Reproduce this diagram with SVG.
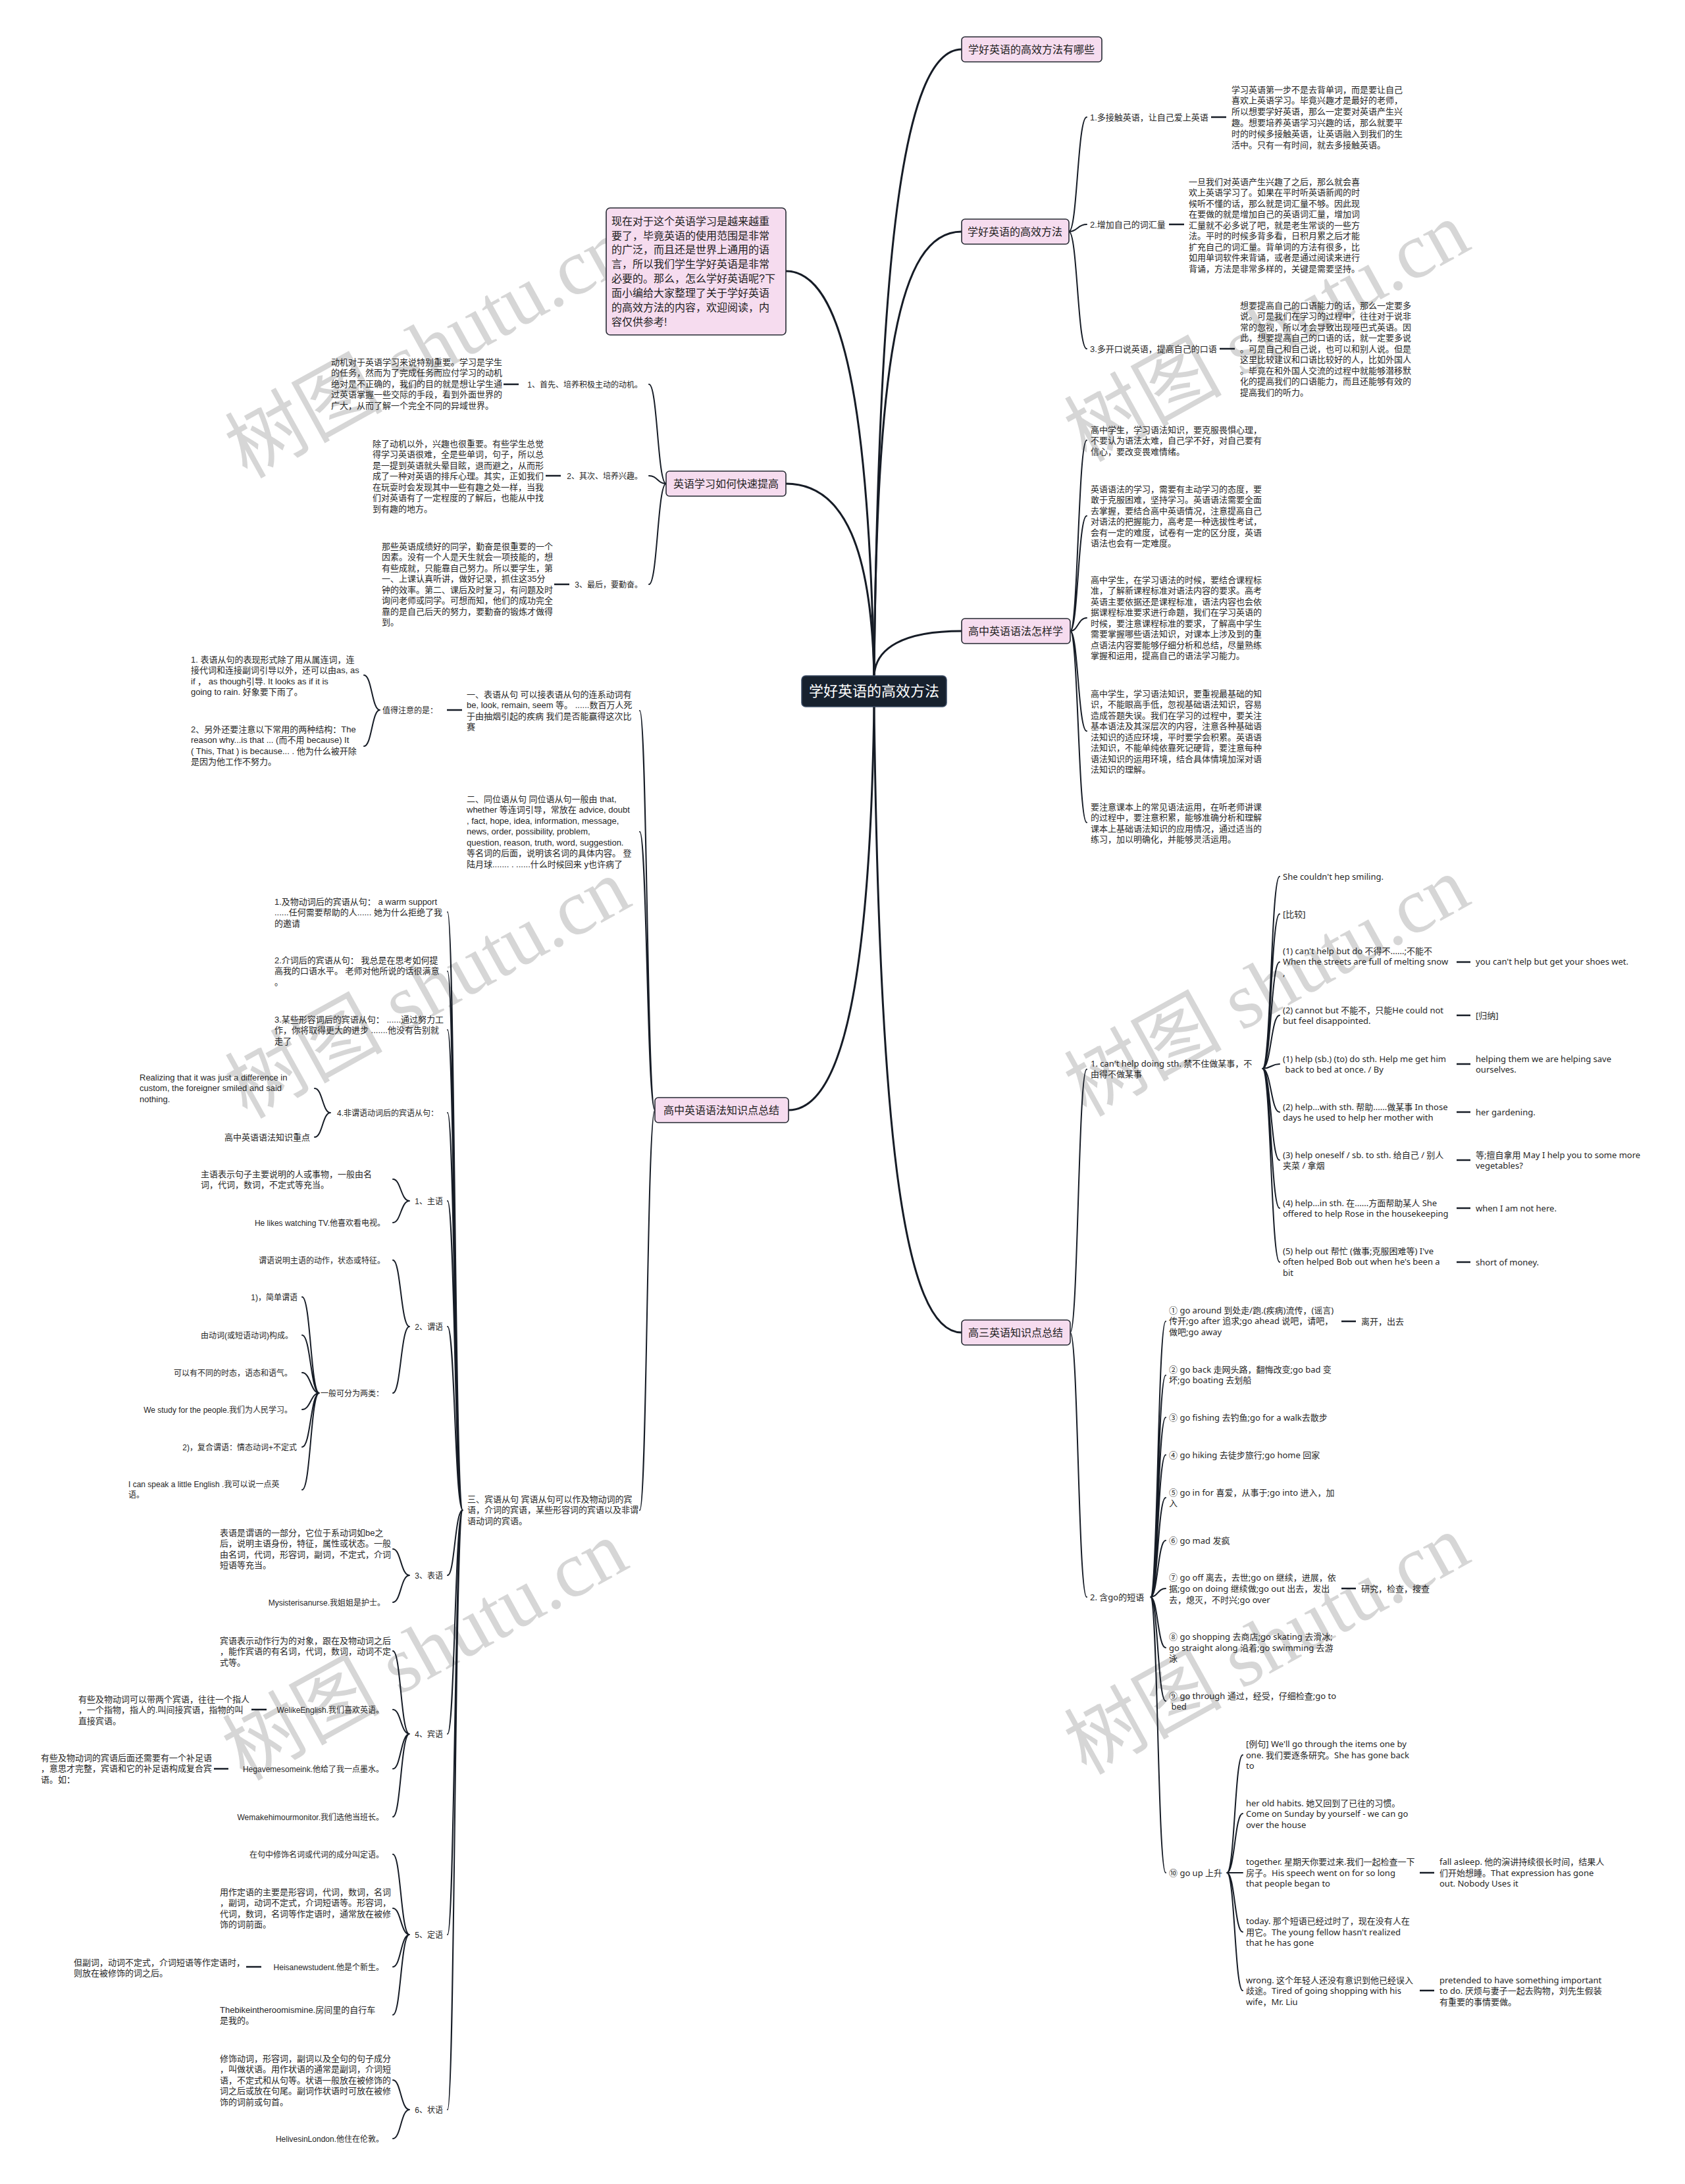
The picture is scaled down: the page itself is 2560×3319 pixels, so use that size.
<svg xmlns="http://www.w3.org/2000/svg" width="2560" height="3319" viewBox="0 0 2560 3319">
<style>
text{font-family:"Liberation Sans","Noto Sans CJK SC",sans-serif;font-size:13px;fill:#262626}
.n{font-family:"Noto Sans","Noto Sans CJK SC",sans-serif}
.e{text-anchor:end}
.s{font-size:12px}
.lb{font-size:16px;fill:#222;text-anchor:middle}
.it{font-size:16px;fill:#222}
.rt{font-size:22px;fill:#fff;text-anchor:middle}
.box{fill:#f6dcef;stroke:#262a33;stroke-width:1.6}
.root{fill:#17212e;stroke:#3a4a62;stroke-width:1.6}
.c{fill:none;stroke:#161c26;stroke-width:2;stroke-linecap:round}
.m{stroke-width:3}
.d{fill:none;stroke:#161c26;stroke-width:2.5}
.wm{font-family:"Liberation Serif","Noto Sans CJK SC",serif;font-size:120px;fill:#d6d6d6;text-anchor:middle}
</style>
<rect width="2560" height="3319" fill="#fff"/>
<g id="watermark">
<text class="wm" transform="translate(650,530) rotate(-29)" y="40">树图 shutu.cn</text>
<text class="wm" transform="translate(1925,505) rotate(-29)" y="40">树图 shutu.cn</text>
<text class="wm" transform="translate(650,1503) rotate(-29)" y="40">树图 shutu.cn</text>
<text class="wm" transform="translate(1925,1500) rotate(-29)" y="40">树图 shutu.cn</text>
<text class="wm" transform="translate(646,2509) rotate(-29)" y="40">树图 shutu.cn</text>
<text class="wm" transform="translate(1925,2500) rotate(-29)" y="40">树图 shutu.cn</text>
</g>
<g id="connectors">
<path class="c m" d="M1328,1027 C1335,400 1370,75 1461,75"/>
<path class="c m" d="M1328,1027 C1332,560 1362,352 1461,352"/>
<path class="c m" d="M1328,1027 C1330,985 1372,959 1461,959"/>
<path class="c m" d="M1328,1027 C1320,620 1282,412 1194,412"/>
<path class="c m" d="M1328,1027 C1324,840 1285,735 1194,735"/>
<path class="c m" d="M1328,1074 C1322,1480 1282,1687 1198,1687"/>
<path class="c m" d="M1328,1074 C1336,1720 1372,2025 1461,2025"/>
<path class="c" d="M1624,352 C1637,352 1637,178 1651,178 M1624,352 C1637,352 1637,341 1651,341 M1624,352 C1637,352 1637,530 1651,530"/>
<path class="c" d="M1626,959 C1638,959 1638,669 1651,669 M1626,959 C1638,959 1638,784 1651,784 M1626,959 C1638,959 1638,939 1651,939 M1626,959 C1638,959 1638,1111 1651,1111 M1626,959 C1638,959 1638,1250 1651,1250"/>
<path class="c" d="M1626,2025 C1638,2025 1638,1625 1651,1625 M1626,2025 C1638,2025 1638,2427 1651,2427"/>
<path class="c" d="M1918,1624 C1931,1624 1931,1332 1944,1332 M1918,1624 C1931,1624 1931,1389 1944,1389 M1918,1624 C1931,1624 1931,1462 1944,1462 M1918,1624 C1931,1624 1931,1543 1944,1543 M1918,1624 C1931,1624 1931,1617 1944,1617 M1918,1624 C1931,1624 1931,1690 1944,1690 M1918,1624 C1931,1624 1931,1763 1944,1763 M1918,1624 C1931,1624 1931,1836 1944,1836 M1918,1624 C1931,1624 1931,1918 1944,1918"/>
<path class="c" d="M1748,2427 C1759,2427 1759,2008 1771,2008 M1748,2427 C1759,2427 1759,2090 1771,2090 M1748,2427 C1759,2427 1759,2154 1771,2154 M1748,2427 C1759,2427 1759,2211 1771,2211 M1748,2427 C1759,2427 1759,2276 1771,2276 M1748,2427 C1759,2427 1759,2341 1771,2341 M1748,2427 C1759,2427 1759,2414 1771,2414 M1748,2427 C1759,2427 1759,2504 1771,2504 M1748,2427 C1759,2427 1759,2585 1771,2585 M1748,2427 C1759,2427 1759,2846 1771,2846"/>
<path class="c" d="M1864,2846 C1876,2846 1876,2667 1888,2667 M1864,2846 C1876,2846 1876,2756 1888,2756 M1864,2846 C1876,2846 1876,2846 1888,2846 M1864,2846 C1876,2846 1876,2936 1888,2936 M1864,2846 C1876,2846 1876,3025 1888,3025"/>
<path class="c" d="M1012,735 C999,735 999,584 986,584 M1012,735 C999,735 999,723 986,723 M1012,735 C999,735 999,888 986,888"/>
<path class="c" d="M995,1687 C983,1687 983,1080 972,1080 M995,1687 C983,1687 983,1264 972,1264 M995,1687 C983,1687 983,2295 972,2295"/>
<path class="c" d="M577,1079 C565,1079 565,1026 553,1026 M577,1079 C565,1079 565,1134 553,1134"/>
<path class="c" d="M703,2295 C691,2295 691,1386 680,1386 M703,2295 C691,2295 691,1476 680,1476 M703,2295 C691,2295 691,1565 680,1565 M703,2295 C691,2295 691,1691 680,1691 M703,2295 C691,2295 691,1825 680,1825 M703,2295 C691,2295 691,2016 680,2016 M703,2295 C691,2295 691,2394 680,2394 M703,2295 C691,2295 691,2635 680,2635 M703,2295 C691,2295 691,2940 680,2940 M703,2295 C691,2295 691,3206 680,3206"/>
<path class="c" d="M502,1691 C490,1691 490,1654 478,1654 M502,1691 C490,1691 490,1728 478,1728"/>
<path class="c" d="M622,1825 C609,1825 609,1792 597,1792 M622,1825 C609,1825 609,1858 597,1858"/>
<path class="c" d="M622,2016 C609,2016 609,1915 597,1915 M622,2016 C609,2016 609,2117 597,2117"/>
<path class="c" d="M485,2117 C472,2117 472,1971 459,1971 M485,2117 C472,2117 472,2029 459,2029 M485,2117 C472,2117 472,2086 459,2086 M485,2117 C472,2117 472,2142 459,2142 M485,2117 C472,2117 472,2199 459,2199 M485,2117 C472,2117 472,2264 459,2264"/>
<path class="c" d="M622,2394 C609,2394 609,2354 597,2354 M622,2394 C609,2394 609,2435 597,2435"/>
<path class="c" d="M622,2635 C609,2635 609,2509 597,2509 M622,2635 C609,2635 609,2598 597,2598 M622,2635 C609,2635 609,2688 597,2688 M622,2635 C609,2635 609,2761 597,2761"/>
<path class="c" d="M622,2940 C609,2940 609,2818 597,2818 M622,2940 C609,2940 609,2900 597,2900 M622,2940 C609,2940 609,2989 597,2989 M622,2940 C609,2940 609,3062 597,3062"/>
<path class="c" d="M622,3206 C609,3206 609,3161 597,3161 M622,3206 C609,3206 609,3250 597,3250"/>
<path class="d" d="M1840,178 H1863 M1776,341 H1799 M1853,530 H1876 M2213,1462 H2234 M2213,1543 H2234 M2213,1617 H2234 M2213,1690 H2234 M2213,1763 H2234 M2213,1836 H2234 M2213,1918 H2234 M2038,2008 H2060 M2038,2414 H2060 M2157,2846 H2179 M2157,3025 H2179 M765,584 H788 M829,723 H852 M842,888 H865 M679,1079 H702 M382,2598 H405 M325,2688 H347 M374,2989 H397"/>
</g>
<g id="root-node"><rect class="root" x="1218" y="1027" width="220" height="47" rx="6"/><text class="rt" x="1328" y="1058">学好英语的高效方法</text></g>
<g id="branch-youxiao-nali"><rect class="box" x="1461" y="56" width="213" height="38" rx="5"/><text class="lb" x="1567" y="80.6">学好英语的高效方法有哪些</text></g>
<g id="branch-youxiao"><rect class="box" x="1461" y="333" width="163" height="38" rx="5"/><text class="lb" x="1542" y="357.6">学好英语的高效方法</text></g>
<g id="branch-yufa-zenyang"><rect class="box" x="1461" y="940" width="165" height="38" rx="5"/><text class="lb" x="1543" y="964.6">高中英语语法怎样学</text></g>
<g id="branch-gaosan"><rect class="box" x="1461" y="2006" width="165" height="38" rx="5"/><text class="lb" x="1543" y="2030.6">高三英语知识点总结</text></g>
<g id="branch-intro"><rect class="box" x="921" y="316" width="273" height="193" rx="6"/><text class="it"><tspan x="929" y="341.6">现在对于这个英语学习是越来越重</tspan><tspan x="929" y="363.5">要了，毕竟英语的使用范围是非常</tspan><tspan x="929" y="385.4">的广泛，而且还是世界上通用的语</tspan><tspan x="929" y="407.3">言，所以我们学生学好英语是非常</tspan><tspan x="929" y="429.2">必要的。那么，怎么学好英语呢?下</tspan><tspan x="929" y="451.1">面小编给大家整理了关于学好英语</tspan><tspan x="929" y="473">的高效方法的内容，欢迎阅读，内</tspan><tspan x="929" y="494.9">容仅供参考!</tspan></text></g>
<g id="branch-kuaisu"><rect class="box" x="1012" y="716" width="182" height="38" rx="5"/><text class="lb" x="1103" y="740.6">英语学习如何快速提高</text></g>
<g id="branch-zhishidian"><rect class="box" x="995" y="1668" width="203" height="38" rx="5"/><text class="lb" x="1096" y="1692.6">高中英语语法知识点总结</text></g>

<g id="n-jiechu"><text x="1656" y="182.5">1.多接触英语，让自己爱上英语</text></g>
<g id="n-jiechu-p"><text><tspan x="1871" y="140.5">学习英语第一步不是去背单词，而是要让自己</tspan><tspan x="1871" y="157.3">喜欢上英语学习。毕竟兴趣才是最好的老师，</tspan><tspan x="1871" y="174.1">所以想要学好英语，那么一定要对英语产生兴</tspan><tspan x="1871" y="190.9">趣。想要培养英语学习兴趣的话，那么就要平</tspan><tspan x="1871" y="207.7">时的时候多接触英语，让英语融入到我们的生</tspan><tspan x="1871" y="224.5">活中。只有一有时间，就去多接触英语。</tspan></text></g>
<g id="n-cihui"><text x="1656" y="345.5">2.增加自己的词汇量</text></g>
<g id="n-cihui-p"><text><tspan x="1806" y="280.5">一旦我们对英语产生兴趣了之后，那么就会喜</tspan><tspan x="1806" y="297">欢上英语学习了。如果在平时听英语新闻的时</tspan><tspan x="1806" y="313.5">候听不懂的话，那么就是词汇量不够。因此现</tspan><tspan x="1806" y="330">在要做的就是增加自己的英语词汇量，增加词</tspan><tspan x="1806" y="346.5">汇量就不必多说了吧，就是老生常谈的一些方</tspan><tspan x="1806" y="363">法。平时的时候多背多看，日积月累之后才能</tspan><tspan x="1806" y="379.5">扩充自己的词汇量。背单词的方法有很多，比</tspan><tspan x="1806" y="396">如用单词软件来背诵，或者是通过阅读来进行</tspan><tspan x="1806" y="412.5">背诵，方法是非常多样的，关键是需要坚持。</tspan></text></g>
<g id="n-kouyu"><text x="1656" y="534.5">3.多开口说英语，提高自己的口语</text></g>
<g id="n-kouyu-p"><text><tspan x="1884" y="468.5">想要提高自己的口语能力的话，那么一定要多</tspan><tspan x="1884" y="485">说。可是我们在学习的过程中，往往对于说非</tspan><tspan x="1884" y="501.5">常的忽视，所以才会导致出现哑巴式英语。因</tspan><tspan x="1884" y="518">此，想要提高自己的口语的话，就一定要多说</tspan><tspan x="1884" y="534.5">。可是自己和自己说，也可以和别人说。但是</tspan><tspan x="1884" y="551">这里比较建议和口语比较好的人，比如外国人</tspan><tspan x="1884" y="567.5">。毕竟在和外国人交流的过程中就能够潜移默</tspan><tspan x="1884" y="584">化的提高我们的口语能力，而且还能够有效的</tspan><tspan x="1884" y="600.5">提高我们的听力。</tspan></text></g>

<g id="n-yufa-1"><text><tspan x="1657" y="657.5">高中学生，学习语法知识，要克服畏惧心理，</tspan><tspan x="1657" y="674">不要认为语法太难，自己学不好，对自己要有</tspan><tspan x="1657" y="690.5">信心，要改变畏难情绪。</tspan></text></g>
<g id="n-yufa-2"><text><tspan x="1657" y="747.5">英语语法的学习，需要有主动学习的态度，要</tspan><tspan x="1657" y="764">敢于克服困难，坚持学习。英语语法需要全面</tspan><tspan x="1657" y="780.5">去掌握，要结合高中英语情况，注意提高自己</tspan><tspan x="1657" y="797">对语法的把握能力，高考是一种选拔性考试，</tspan><tspan x="1657" y="813.5">会有一定的难度，试卷有一定的区分度，英语</tspan><tspan x="1657" y="830">语法也会有一定难度。</tspan></text></g>
<g id="n-yufa-3"><text><tspan x="1657" y="885.5">高中学生，在学习语法的时候，要结合课程标</tspan><tspan x="1657" y="902">准，了解新课程标准对语法内容的要求。高考</tspan><tspan x="1657" y="918.5">英语主要依据还是课程标准，语法内容也会依</tspan><tspan x="1657" y="935">据课程标准要求进行命题，我们在学习英语的</tspan><tspan x="1657" y="951.5">时候，要注意课程标准的要求，了解高中学生</tspan><tspan x="1657" y="968">需要掌握哪些语法知识，对课本上涉及到的重</tspan><tspan x="1657" y="984.5">点语法内容要能够仔细分析和总结，尽量熟练</tspan><tspan x="1657" y="1001">掌握和运用，提高自己的语法学习能力。</tspan></text></g>
<g id="n-yufa-4"><text><tspan x="1657" y="1058.5">高中学生，学习语法知识，要重视最基础的知</tspan><tspan x="1657" y="1075">识，不能眼高手低，忽视基础语法知识，容易</tspan><tspan x="1657" y="1091.5">造成答题失误。我们在学习的过程中，要关注</tspan><tspan x="1657" y="1108">基本语法及其深层次的内容，注意各种基础语</tspan><tspan x="1657" y="1124.5">法知识的适应环境，平时要学会积累。英语语</tspan><tspan x="1657" y="1141">法知识，不能单纯依靠死记硬背，要注意每种</tspan><tspan x="1657" y="1157.5">语法知识的运用环境，结合具体情境加深对语</tspan><tspan x="1657" y="1174">法知识的理解。</tspan></text></g>
<g id="n-yufa-5"><text><tspan x="1657" y="1230.5">要注意课本上的常见语法运用，在听老师讲课</tspan><tspan x="1657" y="1247">的过程中，要注意积累，能够准确分析和理解</tspan><tspan x="1657" y="1263.5">课本上基础语法知识的应用情况，通过适当的</tspan><tspan x="1657" y="1280">练习，加以明确化，并能够灵活运用。</tspan></text></g>

<g id="n-canthelp"><text class="n"><tspan x="1657" y="1620.5">1. can't help doing sth. 禁不住做某事，不</tspan><tspan x="1657" y="1637">由得不做某事</tspan></text></g>
<g id="n-ch-1"><text class="n" x="1949" y="1336.5">She couldn't hep smiling.</text></g>
<g id="n-ch-2"><text class="n" x="1949" y="1393.5">[比较]</text></g>
<g id="n-ch-3"><text class="n"><tspan x="1949" y="1449.5">(1) can't help but do 不得不......;不能不</tspan><tspan x="1949" y="1466">When the streets are full of melting snow</tspan><tspan x="1949" y="1482.5">,</tspan></text><text class="n" x="2242" y="1466">you can't help but get your shoes wet.</text></g>
<g id="n-ch-4"><text class="n"><tspan x="1949" y="1539.5">(2) cannot but 不能不，只能He could not</tspan><tspan x="1949" y="1555.5">but feel disappointed.</tspan></text><text class="n" x="2242" y="1547.5">[归纳]</text></g>
<g id="n-ch-5"><text class="n"><tspan x="1949" y="1613.5">(1) help (sb.) (to) do sth. Help me get him</tspan><tspan x="1949" y="1629.5"> back to bed at once. / By</tspan></text><text class="n"><tspan x="2242" y="1613.5">helping them we are helping save</tspan><tspan x="2242" y="1629.5">ourselves.</tspan></text></g>
<g id="n-ch-6"><text class="n"><tspan x="1949" y="1686.5">(2) help...with sth. 帮助......做某事 In those</tspan><tspan x="1949" y="1702.5">days he used to help her mother with</tspan></text><text class="n" x="2242" y="1694.5">her gardening.</text></g>
<g id="n-ch-7"><text class="n"><tspan x="1949" y="1759.5">(3) help oneself / sb. to sth. 给自己 / 别人</tspan><tspan x="1949" y="1775.5">夹菜 / 拿烟</tspan></text><text class="n"><tspan x="2242" y="1759.5">等;擅自拿用 May I help you to some more</tspan><tspan x="2242" y="1775.5">vegetables?</tspan></text></g>
<g id="n-ch-8"><text class="n"><tspan x="1949" y="1832.5">(4) help...in sth. 在......方面帮助某人 She</tspan><tspan x="1949" y="1849">offered to help Rose in the housekeeping</tspan></text><text class="n" x="2242" y="1840.5">when I am not here.</text></g>
<g id="n-ch-9"><text class="n"><tspan x="1949" y="1905.5">(5) help out 帮忙 (做事;克服困难等) I've</tspan><tspan x="1949" y="1922">often helped Bob out when he's been a</tspan><tspan x="1949" y="1938.5">bit</tspan></text><text class="n" x="2242" y="1922.5">short of money.</text></g>

<g id="n-go"><text class="n" x="1656" y="2431.5">2. 含go的短语</text></g>
<g id="n-go-1"><text class="n"><tspan x="1776" y="1995.5">① go around 到处走/跑.(疾病)流传，(谣言)</tspan><tspan x="1776" y="2012">传开;go after 追求;go ahead 说吧，请吧，</tspan><tspan x="1776" y="2028.5">做吧;go away</tspan></text><text class="n" x="2068" y="2012.5">离开，出去</text></g>
<g id="n-go-2"><text class="n"><tspan x="1776" y="2085.5">② go back 走网头路，翻悔改变;go bad 变</tspan><tspan x="1776" y="2102">坏;go boating 去划船</tspan></text></g>
<g id="n-go-3"><text class="n" x="1776" y="2158.5">③ go fishing 去钓鱼;go for a walk去散步</text></g>
<g id="n-go-4"><text class="n" x="1776" y="2215.5">④ go hiking 去徒步旅行;go home 回家</text></g>
<g id="n-go-5"><text class="n"><tspan x="1776" y="2272.5">⑤ go in for 喜爱，从事于;go into 进入，加</tspan><tspan x="1776" y="2288.5">入</tspan></text></g>
<g id="n-go-6"><text class="n" x="1776" y="2345.5">⑥ go mad 发疯</text></g>
<g id="n-go-7"><text class="n"><tspan x="1776" y="2401.5">⑦ go off 离去，去世;go on 继续，进展，依</tspan><tspan x="1776" y="2418.5">据;go on doing 继续做;go out 出去，发出</tspan><tspan x="1776" y="2435.5">去，熄灭，不时兴;go over</tspan></text><text class="n" x="2068" y="2418.5">研究，检查，搜查</text></g>
<g id="n-go-8"><text class="n"><tspan x="1776" y="2491.5">⑧ go shopping 去商店;go skating 去滑冰;</tspan><tspan x="1776" y="2508.5">go straight along 沿着;go swimming 去游</tspan><tspan x="1776" y="2524.5">泳</tspan></text></g>
<g id="n-go-9"><text class="n"><tspan x="1776" y="2581.5">⑨ go through 通过，经受，仔细检查;go to</tspan><tspan x="1776" y="2597.5"> bed</tspan></text></g>
<g id="n-go-10"><text class="n" x="1776" y="2850.5">⑩ go up 上升</text></g>
<g id="n-up-1"><text class="n"><tspan x="1893" y="2654.5">[例句] We'll go through the items one by</tspan><tspan x="1893" y="2671.5">one. 我们要逐条研究。She has gone back</tspan><tspan x="1893" y="2687.5">to</tspan></text></g>
<g id="n-up-2"><text class="n"><tspan x="1893" y="2744.5">her old habits. 她又回到了已往的习惯。</tspan><tspan x="1893" y="2760.5">Come on Sunday by yourself - we can go</tspan><tspan x="1893" y="2777.5">over the house</tspan></text></g>
<g id="n-up-3"><text class="n"><tspan x="1893" y="2833.5">together. 星期天你要过来.我们一起检查一下</tspan><tspan x="1893" y="2850.5">房子。His speech went on for so long</tspan><tspan x="1893" y="2866.5">that people began to</tspan></text><text class="n"><tspan x="2187" y="2833.5">fall asleep. 他的演讲持续很长时间，结果人</tspan><tspan x="2187" y="2850.5">们开始想睡。That expression has gone</tspan><tspan x="2187" y="2866.5">out. Nobody Uses it</tspan></text></g>
<g id="n-up-4"><text class="n"><tspan x="1893" y="2923.5">today. 那个短语已经过时了，现在没有人在</tspan><tspan x="1893" y="2940.5">用它。The young fellow hasn't realized</tspan><tspan x="1893" y="2956.5">that he has gone</tspan></text></g>
<g id="n-up-5"><text class="n"><tspan x="1893" y="3013.5">wrong. 这个年轻人还没有意识到他已经误入</tspan><tspan x="1893" y="3029.5">歧途。Tired of going shopping with his</tspan><tspan x="1893" y="3046.5">wife，Mr. Liu</tspan></text><text class="n"><tspan x="2187" y="3013.5">pretended to have something important</tspan><tspan x="2187" y="3029.5">to do. 厌烦与妻子一起去购物，刘先生假装</tspan><tspan x="2187" y="3046.5">有重要的事情要做。</tspan></text></g>

<g id="n-dongji"><text class="e s" x="976" y="588.5">1、首先、培养积极主动的动机。</text><text><tspan x="503" y="554.5">动机对于英语学习来说特别重要。学习是学生</tspan><tspan x="503" y="571">的任务，然而为了完成任务而应付学习的动机</tspan><tspan x="503" y="587.5">绝对是不正确的，我们的目的就是想让学生通</tspan><tspan x="503" y="604">过英语掌握一些交际的手段，看到外面世界的</tspan><tspan x="503" y="620.5">广大，从而了解一个完全不同的异域世界。</tspan></text></g>
<g id="n-xingqu"><text class="e s" x="976" y="727.5">2、其次、培养兴趣。</text><text><tspan x="566" y="678.5">除了动机以外，兴趣也很重要。有些学生总觉</tspan><tspan x="566" y="695">得学习英语很难，全是些单词，句子，所以总</tspan><tspan x="566" y="711.5">是一提到英语就头晕目眩，退而避之，从而形</tspan><tspan x="566" y="728">成了一种对英语的排斥心理。其实，正如我们</tspan><tspan x="566" y="744.5">在玩耍时会发现其中一些有趣之处一样，当我</tspan><tspan x="566" y="761">们对英语有了一定程度的了解后，也能从中找</tspan><tspan x="566" y="777.5">到有趣的地方。</tspan></text></g>
<g id="n-qinfen"><text class="e s" x="976" y="892.5">3、最后，要勤奋。</text><text><tspan x="580" y="834.5">那些英语成绩好的同学，勤奋是很重要的一个</tspan><tspan x="580" y="851">因素。没有一个人是天生就会一项技能的，想</tspan><tspan x="580" y="867.5">有些成就，只能靠自己努力。所以要学生，第</tspan><tspan x="580" y="884">一、上课认真听讲，做好记录，抓住这35分</tspan><tspan x="580" y="900.5">钟的效率。第二、课后及时复习，有问题及时</tspan><tspan x="580" y="917">询问老师或同学。可想而知，他们的成功完全</tspan><tspan x="580" y="933.5">靠的是自己后天的努力，要勤奋的锻炼才做得</tspan><tspan x="580" y="950">到。</tspan></text></g>

<g id="n-biaoyu-congju"><text><tspan x="709" y="1059.5">一、表语从句 可以接表语从句的连系动词有</tspan><tspan x="709" y="1076">be, look, remain, seem 等。 ......数百万人死</tspan><tspan x="709" y="1092.5">于由抽烟引起的疾病 我们是否能赢得这次比</tspan><tspan x="709" y="1109">赛</tspan></text></g>
<g id="n-zhide"><text class="e s" x="665" y="1083.5">值得注意的是：</text></g>
<g id="n-zhide-1"><text><tspan x="290" y="1006.5">1. 表语从句的表现形式除了用从属连词，连</tspan><tspan x="290" y="1023">接代词和连接副词引导以外，还可以由as, as</tspan><tspan x="290" y="1039.5">if ， as though引导. It looks as if it is</tspan><tspan x="290" y="1056">going to rain. 好象要下雨了。</tspan></text></g>
<g id="n-zhide-2"><text><tspan x="290" y="1112.5">2、另外还要注意以下常用的两种结构：The</tspan><tspan x="290" y="1129">reason why...is that ... (而不用 because) It</tspan><tspan x="290" y="1145.5">( This, That ) is because... . 他为什么被开除</tspan><tspan x="290" y="1162">是因为他工作不努力。</tspan></text></g>
<g id="n-tongwei"><text><tspan x="709" y="1218.5">二、同位语从句 同位语从句一般由 that,</tspan><tspan x="709" y="1235">whether 等连词引导，常放在 advice, doubt</tspan><tspan x="709" y="1251.5">, fact, hope, idea, information, message,</tspan><tspan x="709" y="1268">news, order, possibility, problem,</tspan><tspan x="709" y="1284.5">question, reason, truth, word, suggestion.</tspan><tspan x="709" y="1301">等名词的后面，说明该名词的具体内容。 登</tspan><tspan x="709" y="1317.5">陆月球....... . ......什么时候回来 y也许病了</tspan></text></g>
<g id="n-binyu-congju"><text><tspan x="710" y="2282.5">三、宾语从句 宾语从句可以作及物动词的宾</tspan><tspan x="710" y="2299">语，介词的宾语，某些形容词的宾语以及非谓</tspan><tspan x="710" y="2315.5">语动词的宾语。</tspan></text></g>
<g id="n-by-1"><text><tspan x="417" y="1374.5">1.及物动词后的宾语从句： a warm support</tspan><tspan x="417" y="1391">......任何需要帮助的人...... 她为什么拒绝了我</tspan><tspan x="417" y="1407.5">的邀请</tspan></text></g>
<g id="n-by-2"><text><tspan x="417" y="1463.5">2.介词后的宾语从句： 我总是在思考如何提</tspan><tspan x="417" y="1480">高我的口语水平。 老师对他所说的话很满意</tspan><tspan x="417" y="1496.5">。</tspan></text></g>
<g id="n-by-3"><text><tspan x="417" y="1553.5">3.某些形容词后的宾语从句： ......通过努力工</tspan><tspan x="417" y="1570">作，你将取得更大的进步 .......他没有告别就</tspan><tspan x="417" y="1586.5">走了</tspan></text></g>
<g id="n-by-4"><text class="e s" x="666" y="1695.5">4.非谓语动词后的宾语从句：</text></g>
<g id="n-by-4a"><text><tspan x="212" y="1641.5">Realizing that it was just a difference in</tspan><tspan x="212" y="1658">custom, the foreigner smiled and said</tspan><tspan x="212" y="1674.5">nothing.</tspan></text></g>
<g id="n-by-4b"><text class="e" x="471" y="1732.5">高中英语语法知识重点</text></g>

<g id="n-zhuyu"><text class="e s" x="673" y="1829.5">1、主语</text><text><tspan x="305" y="1788.5">主语表示句子主要说明的人或事物，一般由名</tspan><tspan x="305" y="1805">词，代词，数词，不定式等充当。</tspan></text><text class="e s" x="585" y="1862.5">He likes watching TV.他喜欢看电视。</text></g>
<g id="n-weiyu"><text class="e s" x="673" y="2020.5">2、谓语</text><text class="e s" x="585" y="1919.5">谓语说明主语的动作，状态或特征。</text></g>
<g id="n-liangl"><text class="e s" x="583" y="2121.5">一般可分为两类：</text></g>
<g id="n-wy-items"><text class="e s" x="452" y="1975.5">1)，简单谓语</text><text class="e s" x="445" y="2033.5">由动词(或短语动词)构成。</text><text class="e s" x="444" y="2090.5">可以有不同的时态，语态和语气。</text><text class="e s" x="444" y="2146.5">We study for the people.我们为人民学习。</text><text class="e s" x="451" y="2203.5">2)，复合谓语：情态动词+不定式</text><text class="s"><tspan x="195" y="2259.5">I can speak a little English .我可以说一点英</tspan><tspan x="195" y="2276">语。</tspan></text></g>
<g id="n-biaoyu"><text class="e s" x="673" y="2398.5">3、表语</text><text><tspan x="334" y="2333.5">表语是谓语的一部分，它位于系动词如be之</tspan><tspan x="334" y="2350">后，说明主语身份，特征，属性或状态。一般</tspan><tspan x="334" y="2366.5">由名词，代词，形容词，副词，不定式，介词</tspan><tspan x="334" y="2383">短语等充当。</tspan></text><text class="e s" x="585" y="2439.5">Mysisterisanurse.我姐姐是护士。</text></g>
<g id="n-binyu"><text class="e s" x="673" y="2639.5">4、宾语</text><text><tspan x="334" y="2497.5">宾语表示动作行为的对象，跟在及物动词之后</tspan><tspan x="334" y="2514">，能作宾语的有名词，代词，数词，动词不定</tspan><tspan x="334" y="2530.5">式等。</tspan></text><text class="e s" x="583" y="2602.5">WelikeEnglish.我们喜欢英语。</text><text><tspan x="119" y="2586.5">有些及物动词可以带两个宾语，往往一个指人</tspan><tspan x="119" y="2603">，一个指物，指人的.叫间接宾语，指物的叫</tspan><tspan x="119" y="2619.5">直接宾语。</tspan></text><text class="e s" x="583" y="2692.5">Hegavemesomeink.他给了我一点墨水。</text><text><tspan x="62" y="2675.5">有些及物动词的宾语后面还需要有一个补足语</tspan><tspan x="62" y="2692">，意思才完整，宾语和它的补足语构成复合宾</tspan><tspan x="62" y="2708.5">语。如：</tspan></text><text class="e s" x="583" y="2765.5">Wemakehimourmonitor.我们选他当班长。</text></g>
<g id="n-dingyu"><text class="e s" x="673" y="2944.5">5、定语</text><text class="e s" x="583" y="2822.5">在句中修饰名词或代词的成分叫定语。</text><text><tspan x="334" y="2879.5">用作定语的主要是形容词，代词，数词，名词</tspan><tspan x="334" y="2896">，副词，动词不定式，介词短语等。形容词，</tspan><tspan x="334" y="2912.5">代词，数词，名词等作定语时，通常放在被修</tspan><tspan x="334" y="2929">饰的词前面。</tspan></text><text class="e s" x="583" y="2993.5">Heisanewstudent.他是个新生。</text><text><tspan x="112" y="2986.5">但副词，动词不定式，介词短语等作定语时，</tspan><tspan x="112" y="3003">则放在被修饰的词之后。</tspan></text><text><tspan x="334" y="3058.5">Thebikeintheroomismine.房间里的自行车</tspan><tspan x="334" y="3075">是我的。</tspan></text></g>
<g id="n-zhuangyu"><text class="e s" x="673" y="3210.5">6、状语</text><text><tspan x="334" y="3132.5">修饰动词，形容词，副词以及全句的句子成分</tspan><tspan x="334" y="3149">，叫做状语。用作状语的通常是副词，介词短</tspan><tspan x="334" y="3165.5">语，不定式和从句等。状语一般放在被修饰的</tspan><tspan x="334" y="3182">词之后或放在句尾。副词作状语时可放在被修</tspan><tspan x="334" y="3198.5">饰的词前或句首。</tspan></text><text class="e s" x="583" y="3254.5">HelivesinLondon.他住在伦敦。</text></g>
</svg>
